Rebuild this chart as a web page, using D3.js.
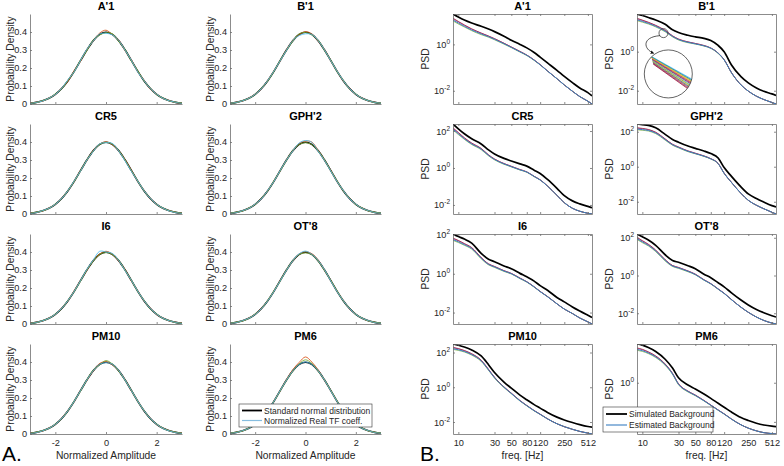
<!DOCTYPE html>
<html><head><meta charset="utf-8">
<script src="https://cdn.jsdelivr.net/npm/d3@7"></script>
<style>
body{margin:0;background:#fff;}
svg{display:block;font-family:"Liberation Sans",Arial,Helvetica,sans-serif;}
</style></head><body>
<svg id="c" width="784" height="466"></svg>
<script>
// ---------------- DATA ----------------
const panelNames = ["A'1", "B'1", "CR5", "GPH'2", "I6", "OT'8", "PM10", "PM6"];

// Panel A: probability density
const pdfX = [-3, -2.75, -2.5, -2.25, -2, -1.75, -1.5, -1.25, -1, -0.75, -0.5, -0.25, 0,
              0.25, 0.5, 0.75, 1, 1.25, 1.5, 1.75, 2, 2.25, 2.5, 2.75, 3];
const normalPdf = [0.0044, 0.0091, 0.0175, 0.0317, 0.0540, 0.0863, 0.1295, 0.1826, 0.2420, 0.3011, 0.3521, 0.3867, 0.3989,
                   0.3867, 0.3521, 0.3011, 0.2420, 0.1826, 0.1295, 0.0863, 0.0540, 0.0317, 0.0175, 0.0091, 0.0044];
const pdfYTicks = [0, 0.1, 0.2, 0.3, 0.4];
const pdfXTicks = [-2, 0, 2];

const tfA1 = [
  [0.005,0.010,0.016,0.034,0.052,0.088,0.127,0.186,0.239,0.305,0.349,0.394,0.410,0.385,0.356,0.297,0.246,0.179,0.133,0.083,0.056,0.030,0.019,0.008,0.004],
  [0.004,0.008,0.019,0.031,0.056,0.084,0.132,0.181,0.245,0.298,0.355,0.383,0.396,0.390,0.348,0.303,0.239,0.186,0.128,0.088,0.052,0.033,0.017,0.010,0.005],
  [0.003,0.009,0.017,0.033,0.053,0.087,0.135,0.180,0.243,0.306,0.350,0.389,0.393,0.384,0.354,0.299,0.244,0.178,0.131,0.085,0.055,0.031,0.018,0.009,0.003]];
const tfB1 = [
  [0.004,0.010,0.017,0.033,0.055,0.085,0.131,0.185,0.240,0.303,0.354,0.385,0.402,0.389,0.350,0.304,0.240,0.185,0.128,0.087,0.053,0.033,0.017,0.010,0.004],
  [0.005,0.008,0.019,0.031,0.053,0.088,0.128,0.182,0.244,0.299,0.350,0.390,0.397,0.384,0.355,0.299,0.244,0.181,0.132,0.084,0.056,0.031,0.019,0.008,0.005],
  [0.004,0.009,0.018,0.032,0.054,0.086,0.131,0.184,0.241,0.300,0.353,0.380,0.390,0.386,0.353,0.302,0.241,0.184,0.130,0.086,0.054,0.032,0.018,0.009,0.004]];
const tfCR5 = [
  [0.005,0.009,0.017,0.033,0.053,0.087,0.129,0.184,0.243,0.300,0.353,0.388,0.401,0.386,0.351,0.302,0.243,0.182,0.131,0.085,0.055,0.031,0.018,0.009,0.004],
  [0.004,0.010,0.018,0.031,0.055,0.085,0.131,0.182,0.241,0.302,0.351,0.386,0.398,0.388,0.353,0.300,0.241,0.184,0.129,0.087,0.053,0.033,0.018,0.010,0.004],
  [0.003,0.008,0.019,0.032,0.054,0.086,0.130,0.185,0.240,0.301,0.349,0.390,0.396,0.392,0.350,0.296,0.238,0.183,0.130,0.086,0.054,0.032,0.017,0.008,0.003]];
const tfGPH2 = [
  [0.004,0.009,0.018,0.032,0.054,0.086,0.130,0.183,0.242,0.302,0.352,0.392,0.405,0.400,0.354,0.300,0.243,0.182,0.130,0.086,0.054,0.032,0.018,0.009,0.004],
  [0.005,0.010,0.017,0.033,0.053,0.087,0.129,0.184,0.241,0.300,0.353,0.386,0.396,0.386,0.351,0.302,0.241,0.184,0.129,0.087,0.053,0.033,0.017,0.010,0.005],
  [0.004,0.008,0.019,0.031,0.055,0.085,0.131,0.182,0.243,0.301,0.351,0.395,0.408,0.398,0.349,0.299,0.240,0.181,0.131,0.085,0.055,0.031,0.019,0.008,0.004]];
const tfI6 = [
  [0.005,0.010,0.017,0.033,0.053,0.088,0.128,0.186,0.243,0.300,0.354,0.389,0.404,0.388,0.350,0.303,0.240,0.185,0.128,0.088,0.052,0.033,0.017,0.010,0.005],
  [0.004,0.008,0.019,0.031,0.055,0.085,0.132,0.181,0.240,0.303,0.350,0.386,0.397,0.386,0.354,0.299,0.244,0.181,0.132,0.084,0.056,0.031,0.019,0.008,0.004],
  [0.003,0.009,0.018,0.032,0.054,0.087,0.130,0.183,0.242,0.305,0.356,0.404,0.400,0.392,0.353,0.298,0.243,0.183,0.130,0.086,0.054,0.032,0.018,0.009,0.003]];
const tfOT8 = [
  [0.004,0.009,0.018,0.033,0.054,0.087,0.130,0.183,0.243,0.301,0.351,0.388,0.402,0.390,0.355,0.301,0.242,0.182,0.131,0.085,0.055,0.031,0.018,0.009,0.004],
  [0.005,0.010,0.017,0.031,0.055,0.085,0.131,0.184,0.240,0.302,0.353,0.386,0.395,0.385,0.350,0.300,0.243,0.184,0.129,0.087,0.053,0.033,0.017,0.010,0.005],
  [0.004,0.008,0.019,0.032,0.053,0.086,0.129,0.182,0.241,0.300,0.352,0.390,0.405,0.387,0.353,0.303,0.240,0.181,0.130,0.086,0.054,0.032,0.019,0.008,0.004]];
const tfPM10 = [
  [0.005,0.009,0.017,0.033,0.053,0.087,0.131,0.182,0.243,0.300,0.350,0.392,0.402,0.385,0.353,0.302,0.241,0.184,0.129,0.087,0.053,0.032,0.018,0.009,0.005],
  [0.004,0.010,0.019,0.031,0.055,0.085,0.129,0.184,0.240,0.303,0.355,0.384,0.408,0.389,0.350,0.300,0.243,0.182,0.131,0.085,0.055,0.032,0.018,0.010,0.004],
  [0.003,0.008,0.018,0.032,0.054,0.086,0.130,0.183,0.242,0.302,0.352,0.387,0.396,0.388,0.354,0.300,0.242,0.183,0.130,0.086,0.054,0.031,0.017,0.008,0.003]];
const tfPM6 = [
  [0.004,0.009,0.018,0.032,0.054,0.087,0.129,0.184,0.242,0.304,0.358,0.398,0.428,0.400,0.356,0.300,0.242,0.183,0.130,0.086,0.054,0.032,0.018,0.009,0.004],
  [0.005,0.010,0.017,0.033,0.053,0.085,0.131,0.182,0.241,0.300,0.350,0.390,0.412,0.392,0.350,0.302,0.243,0.184,0.129,0.087,0.053,0.033,0.017,0.010,0.005],
  [0.004,0.008,0.019,0.031,0.055,0.086,0.130,0.183,0.243,0.301,0.352,0.386,0.400,0.386,0.352,0.301,0.241,0.182,0.131,0.085,0.055,0.031,0.019,0.008,0.004]];
const tfSeries = [tfA1, tfB1, tfCR5, tfGPH2, tfI6, tfOT8, tfPM10, tfPM6];

// Panel B: PSD (log10 values) at these frequencies
const freq = [8.5, 10, 12, 15, 20, 25, 30, 40, 50, 65, 80, 100, 120, 150, 200, 250, 320, 400, 512, 580];
const freqTicks = [10, 30, 50, 80, 120, 250, 512];
const simA1  = [1.31, 1.18, 1.05, 0.92, 0.78, 0.66, 0.55, 0.35, 0.18, 0.00, -0.15, -0.35, -0.55, -0.80, -1.12, -1.38, -1.65, -1.88, -2.08, -2.22];
const estA1  = [1.05, 0.92, 0.78, 0.62, 0.45, 0.33, 0.22, 0.03, -0.13, -0.32, -0.47, -0.68, -0.88, -1.15, -1.48, -1.75, -2.02, -2.25, -2.45, -2.57];
const simB1  = [1.93, 1.85, 1.75, 1.62, 1.40, 1.12, 0.98, 0.84, 0.76, 0.68, 0.57, 0.32, 0.00, -0.68, -1.28, -1.60, -1.86, -2.03, -2.16, -2.24];
const estB1  = [1.63, 1.55, 1.45, 1.30, 1.05, 0.78, 0.62, 0.48, 0.40, 0.30, 0.18, -0.08, -0.42, -1.08, -1.70, -2.02, -2.28, -2.45, -2.60, -2.68];
const simCR5 = [2.38, 2.12, 1.85, 1.58, 1.30, 0.98, 0.76, 0.52, 0.38, 0.22, 0.10, -0.12, -0.30, -0.62, -1.10, -1.50, -1.78, -1.94, -2.08, -2.15];
const estCR5 = [2.10, 1.85, 1.58, 1.30, 1.02, 0.68, 0.46, 0.22, 0.07, -0.10, -0.22, -0.46, -0.65, -0.98, -1.48, -1.88, -2.18, -2.34, -2.45, -2.49];
const simGPH2 = [2.44, 2.40, 2.36, 2.22, 1.85, 1.56, 1.40, 1.18, 1.05, 0.90, 0.75, 0.50, -0.05, -0.55, -1.15, -1.55, -1.82, -2.02, -2.22, -2.30];
const estGPH2 = [2.15, 2.12, 2.07, 1.92, 1.55, 1.25, 1.10, 0.88, 0.75, 0.60, 0.45, 0.18, -0.38, -0.90, -1.52, -1.92, -2.20, -2.40, -2.60, -2.70];
const simI6  = [2.05, 1.92, 1.79, 1.58, 1.05, 0.75, 0.62, 0.40, 0.26, 0.02, -0.16, -0.38, -0.61, -0.85, -1.22, -1.45, -1.71, -1.92, -2.14, -2.25];
const estI6  = [1.76, 1.65, 1.50, 1.30, 0.80, 0.48, 0.35, 0.14, 0.00, -0.24, -0.42, -0.68, -0.92, -1.18, -1.55, -1.82, -2.05, -2.28, -2.48, -2.59];
const simOT8 = [2.20, 2.05, 1.88, 1.60, 1.10, 0.80, 0.70, 0.52, 0.36, 0.07, -0.12, -0.38, -0.60, -0.92, -1.30, -1.56, -1.80, -1.97, -2.13, -2.20];
const estOT8 = [1.95, 1.78, 1.60, 1.30, 0.80, 0.50, 0.40, 0.22, 0.05, -0.24, -0.44, -0.72, -0.95, -1.28, -1.68, -1.95, -2.20, -2.38, -2.52, -2.57];
const simPM10 = [2.49, 2.42, 2.32, 2.15, 1.80, 1.30, 0.85, 0.30, -0.05, -0.45, -0.72, -1.00, -1.20, -1.45, -1.72, -1.88, -2.03, -2.15, -2.26, -2.30];
const estPM10 = [2.22, 2.16, 2.06, 1.88, 1.52, 1.00, 0.55, 0.00, -0.36, -0.78, -1.06, -1.35, -1.56, -1.82, -2.10, -2.27, -2.42, -2.54, -2.64, -2.69];
const simPM6 = [1.98, 1.92, 1.80, 1.60, 1.20, 0.75, 0.25, -0.12, -0.32, -0.58, -0.80, -1.05, -1.25, -1.50, -1.78, -1.93, -2.07, -2.16, -2.22, -2.24];
const estPM6 = [1.70, 1.64, 1.52, 1.32, 0.92, 0.45, -0.08, -0.45, -0.65, -0.92, -1.15, -1.40, -1.60, -1.86, -2.15, -2.32, -2.46, -2.55, -2.60, -2.62];
const simPSD = [simA1, simB1, simCR5, simGPH2, simI6, simOT8, simPM10, simPM6];
const estPSD = [estA1, estB1, estCR5, estGPH2, estI6, estOT8, estPM10, estPM6];
// individual estimated-background traces deviate slightly from the mean at low frequency (log10 offsets)
const bundleOffsets = [
  [0.05, 0.05, 0.04, 0.04, 0.03, 0.03, 0.02, 0.02, 0.02, 0.01, 0.01, 0.01, 0.01, 0, 0, 0, 0, 0, 0, 0],
  [-0.04, -0.04, -0.03, -0.03, -0.03, -0.02, -0.02, -0.02, -0.01, -0.01, -0.01, -0.01, 0, 0, 0, 0, 0, 0, 0, 0],
  [0.08, 0.07, 0.06, 0.05, 0.04, 0.03, 0.03, 0.02, 0.02, 0.02, 0.01, 0.01, 0.01, 0.01, 0, 0, 0, 0, 0, 0]];
// zoom inset on B'1 (frequency, log10 PSD)
const insetFocus = {f: 19, lg: 0.95};
const insetCenter = {f: 22, lg: -1.14};
const insetStart = [-17.5, -17, -16.4, -15.8, -15.2, -14.6, -14, -13.4, -12.8, -12.2, -11.6, -11, -10.4, -9.8];
const insetEnd   = [6.5, 7.3, 8, 8.7, 9.5, 10.2, 11, 11.8, 12.6, 13.4, 14.2, 15, 15.8, 16.6];

// ---------------- STYLE / LAYOUT ----------------
const AX = "#6f6f6f", TXT = "#262626";
const tfColors = ["#D95319", "#77AC30", "#4DBEEE"];
const bundleColors = ["#7E2F8E", "#77AC30", "#A2142F"];
const insetColors = ["#4DBEEE", "#0072BD", "#77AC30", "#EDB120", "#D95319", "#7E2F8E", "#A2142F",
                     "#4DBEEE", "#77AC30", "#EDB120", "#0072BD", "#D95319", "#7E2F8E", "#A2142F"];
const ESTC = "#3a7fc1";
const pdfLeft = [30, 230], pdfW = [152, 151];
const rowTop = [14, 124, 234, 344], rowH = 90;
const psdLeft = [453, 637], psdW = 139;
const TICKF = 9.2, LABF = 10.3, TITF = 11;

const svg = d3.select("#c");
svg.append("rect").attr("width", 784).attr("height", 466).attr("fill", "#fff");
const defs = svg.append("defs");

function styleAxis(g, showText) {
  g.select(".domain").attr("stroke", AX).attr("stroke-width", 0.8);
  g.selectAll(".tick line").attr("stroke", AX).attr("stroke-width", 0.8);
  g.selectAll(".tick text").attr("fill", TXT).attr("font-size", TICKF)
    .attr("font-family", '"Liberation Sans",Arial,sans-serif');
  if (!showText) g.selectAll(".tick text").remove();
}

// ---------------- PANEL A ----------------
panelNames.forEach((name, i) => {
  const col = i % 2, row = Math.floor(i / 2);
  const L = pdfLeft[col], W = pdfW[col], T = rowTop[row], B = T + rowH;
  const x = d3.scaleLinear().domain([-3, 3]).range([L, L + W]);
  const y = d3.scaleLinear().domain([0, 0.5]).range([B, T]);
  const g = svg.append("g");
  const line = d3.line().x((d, j) => x(pdfX[j])).y(d => y(d)).curve(d3.curveCatmullRom);

  g.append("path").attr("d", line(normalPdf)).attr("fill", "none")
    .attr("stroke", "#000").attr("stroke-width", 1.6);
  tfSeries[i].forEach((s, k) => {
    g.append("path").attr("d", line(s)).attr("fill", "none")
      .attr("stroke", tfColors[k]).attr("stroke-width", 1).attr("opacity", 0.85);
  });

  const ya = g.append("g").attr("transform", `translate(${L},0)`)
    .call(d3.axisLeft(y).tickValues(pdfYTicks).tickSize(-2).tickSizeOuter(0).tickPadding(3)
      .tickFormat(d => String(d)));
  styleAxis(ya, true);
  const xa = g.append("g").attr("transform", `translate(0,${B})`)
    .call(d3.axisBottom(x).tickValues(pdfXTicks).tickSize(-2).tickSizeOuter(0).tickPadding(5)
      .tickFormat(d => String(d)));
  styleAxis(xa, row === 3);

  g.append("text").attr("x", L + W / 2).attr("y", T - 4.5).attr("text-anchor", "middle")
    .attr("font-weight", "bold").attr("font-size", TITF).attr("fill", "#000").text(name);
  g.append("text").attr("transform", `translate(${L - 16},${T + rowH / 2}) rotate(-90)`)
    .attr("text-anchor", "middle").attr("font-size", LABF).attr("fill", TXT).text("Probability Density");
  if (row === 3) {
    g.append("text").attr("x", L + W / 2).attr("y", 459).attr("text-anchor", "middle")
      .attr("font-size", LABF).attr("fill", TXT).text("Normalized Amplitude");
  }
  if (i === 7) {
    const lg = g.append("g");
    const bx = 239, by = 404, bw = 133, bh = 23;
    lg.append("rect").attr("x", bx).attr("y", by).attr("width", bw).attr("height", bh)
      .attr("fill", "#fff").attr("stroke", "#333").attr("stroke-width", 0.6);
    const items = [["Standard normal distribution", "#000", 1.8], ["Normalized Real TF coeff.", "#86bde0", 1.2]];
    items.forEach((it, k) => {
      const yy = by + 6.5 + k * 10;
      lg.append("line").attr("x1", bx + 3).attr("x2", bx + 23).attr("y1", yy).attr("y2", yy)
        .attr("stroke", it[1]).attr("stroke-width", it[2]);
      lg.append("text").attr("x", bx + 25).attr("y", yy + 3).attr("font-size", 8.5)
        .attr("fill", TXT).text(it[0]);
    });
  }
});

// ---------------- PANEL B ----------------
panelNames.forEach((name, i) => {
  const col = i % 2, row = Math.floor(i / 2);
  const L = psdLeft[col], W = psdW, T = rowTop[row], B = T + rowH;
  const lo = d3.min(estPSD[i]), hi = d3.max(simPSD[i]);
  const x = d3.scaleLog().domain([8.5, 580]).range([L, L + W]);
  const y = d3.scaleLog().domain([Math.pow(10, lo), Math.pow(10, hi)]).range([B, T]);
  const g = svg.append("g");
  const cid = "clip" + i;
  defs.append("clipPath").attr("id", cid).append("rect")
    .attr("x", L).attr("y", T).attr("width", W).attr("height", rowH);
  const pg = g.append("g").attr("clip-path", `url(#${cid})`);
  const line = d3.line().x((d, j) => x(freq[j])).y(d => y(Math.pow(10, d))).curve(d3.curveMonotoneX);

  bundleOffsets.forEach((off, k) => {
    pg.append("path").attr("d", line(estPSD[i].map((v, j) => v + off[j]))).attr("fill", "none")
      .attr("stroke", bundleColors[k]).attr("stroke-width", 0.9).attr("opacity", 0.8);
  });
  pg.append("path").attr("d", line(estPSD[i])).attr("fill", "none")
    .attr("stroke", ESTC).attr("stroke-width", 1);
  pg.append("path").attr("d", line(simPSD[i])).attr("fill", "none")
    .attr("stroke", "#000").attr("stroke-width", 1.7);

  const yt = [1e-2, 1, 1e2].filter(v => Math.log10(v) >= lo && Math.log10(v) <= hi);
  const ax1 = g.append("g").attr("transform", `translate(${L},0)`)
    .call(d3.axisLeft(y).tickValues(yt).tickSize(-2).tickSizeOuter(0).tickFormat(""));
  styleAxis(ax1, false);
  const ax2 = g.append("g").attr("transform", `translate(${L + W},0)`)
    .call(d3.axisRight(y).tickValues(yt).tickSize(-2).tickSizeOuter(0).tickFormat(""));
  styleAxis(ax2, false);
  const ax3 = g.append("g").attr("transform", `translate(0,${T})`)
    .call(d3.axisTop(x).tickValues(freqTicks).tickSize(-2).tickSizeOuter(0).tickFormat(""));
  styleAxis(ax3, false);
  const ax4 = g.append("g").attr("transform", `translate(0,${B})`)
    .call(d3.axisBottom(x).tickValues(freqTicks).tickSize(-2).tickSizeOuter(0).tickPadding(5)
      .tickFormat(d => String(d)));
  styleAxis(ax4, row === 3);

  // the last panel's lowest label sits under the legend box in the reference, so it is not shown
  const labelled = (i === 7) ? yt.filter(v => v >= 1) : yt;
  labelled.forEach(v => {
    const t = g.append("text").attr("x", L - 3).attr("y", y(v) + 3.5).attr("text-anchor", "end")
      .attr("font-size", TICKF).attr("fill", TXT);
    t.append("tspan").text("10");
    t.append("tspan").attr("dy", -4).attr("font-size", 6.5).text(String(Math.round(Math.log10(v))));
  });

  g.append("text").attr("x", L + W / 2).attr("y", T - 4.5).attr("text-anchor", "middle")
    .attr("font-weight", "bold").attr("font-size", TITF).attr("fill", "#000").text(name);
  g.append("text").attr("transform", `translate(${L - 24.5},${T + rowH / 2}) rotate(-90)`)
    .attr("text-anchor", "middle").attr("font-size", LABF).attr("fill", TXT).text("PSD");
  if (row === 3) {
    g.append("text").attr("x", L + W / 2).attr("y", 459).attr("text-anchor", "middle")
      .attr("font-size", LABF).attr("fill", TXT).text("freq. [Hz]");
  }

  if (i === 1) {
    const sx = x(insetFocus.f), sy = y(Math.pow(10, insetFocus.lg));
    const cx = x(insetCenter.f), cy = y(Math.pow(10, insetCenter.lg));
    const R = 24;
    const ic = "insetclip";
    defs.append("clipPath").attr("id", ic).append("circle").attr("cx", cx).attr("cy", cy).attr("r", R);
    g.append("circle").attr("cx", cx).attr("cy", cy).attr("r", R).attr("fill", "#fff");
    const ig = g.append("g").attr("clip-path", `url(#${ic})`);
    const ix = d3.scaleLinear().domain([0, 1]).range([cx - 17, cx + 26]);
    insetStart.forEach((s, k) => {
      ig.append("line").attr("x1", ix(0) + k * 0.15).attr("y1", cy + s)
        .attr("x2", ix(1) - k * 0.3).attr("y2", cy + insetEnd[k])
        .attr("stroke", insetColors[k]).attr("stroke-width", 0.8);
    });
    g.append("circle").attr("cx", cx).attr("cy", cy).attr("r", R).attr("fill", "none")
      .attr("stroke", "#222").attr("stroke-width", 0.7);
    g.append("circle").attr("cx", sx).attr("cy", sy).attr("r", 4.5).attr("fill", "none")
      .attr("stroke", "#222").attr("stroke-width", 0.7);
    defs.append("marker").attr("id", "arr").attr("viewBox", "0 0 10 10").attr("refX", 8).attr("refY", 5)
      .attr("markerWidth", 5).attr("markerHeight", 5).attr("orient", "auto")
      .append("path").attr("d", "M0,0 L10,5 L0,10 z").attr("fill", "#111");
    const p = d3.path();
    p.moveTo(sx - 3.5, sy + 2.5);
    p.bezierCurveTo(sx - 22, sy + 4, sx - 20, sy + 16, sx - 10, sy + 20);
    g.append("path").attr("d", p.toString()).attr("fill", "none").attr("stroke", "#111")
      .attr("stroke-width", 0.7).attr("marker-end", "url(#arr)");
  }

  if (i === 7) {
    const lg = g.append("g");
    const bx = 603, by = 407, bw = 110, bh = 25;
    lg.append("rect").attr("x", bx).attr("y", by).attr("width", bw).attr("height", bh)
      .attr("fill", "#fff").attr("stroke", "#333").attr("stroke-width", 0.6);
    const items = [["Simulated Background", "#000", 1.8], ["Estimated Background", ESTC, 1.1]];
    items.forEach((it, k) => {
      const yy = by + 7 + k * 11;
      lg.append("line").attr("x1", bx + 3).attr("x2", bx + 24).attr("y1", yy).attr("y2", yy)
        .attr("stroke", it[1]).attr("stroke-width", it[2]);
      lg.append("text").attr("x", bx + 26).attr("y", yy + 3).attr("font-size", 8.5)
        .attr("fill", TXT).text(it[0]);
    });
  }
});

svg.append("text").attr("x", 2).attr("y", 461).attr("font-size", 21).attr("fill", "#000").text("A.");
svg.append("text").attr("x", 420).attr("y", 461).attr("font-size", 21).attr("fill", "#000").text("B.");
</script></body></html>
